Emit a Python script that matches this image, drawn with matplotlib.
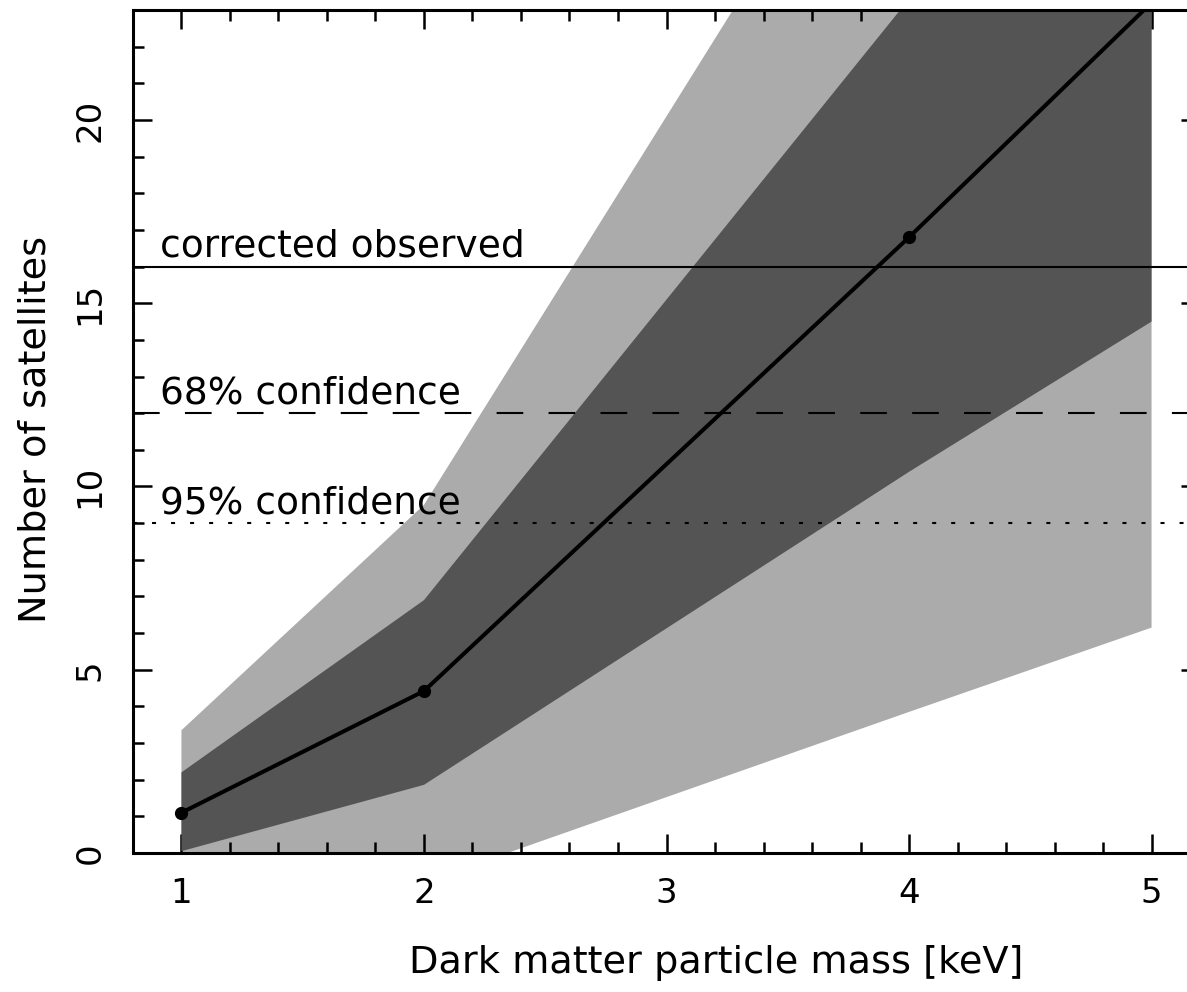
import matplotlib
matplotlib.use("Agg")
import matplotlib.pyplot as plt
from matplotlib.ticker import MultipleLocator

plt.rcParams['font.family'] = ['DejaVu Sans']
plt.rcParams['lines.scale_dashes'] = False

# Predicted satellite counts vs. warm dark matter particle mass
mass_kev = [1, 2, 4, 5]
n_mean = [1.1, 4.42, 16.8, 23.2]
n_lo68 = [0.05, 1.86, 10.4, 14.5]
n_hi68 = [2.2, 6.9, 23.3, 30.5]
n_lo95 = [-3.0, -0.8, 3.85, 6.15]
n_hi95 = [3.35, 9.5, 30.7, 38.0]

# Observed count and its confidence limits
obs_levels = [16, 12, 9]
obs_labels = ["corrected observed", "68% confidence", "95% confidence"]
obs_styles = ["-", (0, (19.2, 18.2)), (0, (2.9, 10.8))]

x_ticks = [1, 2, 3, 4, 5]
y_ticks = [0, 5, 10, 15, 20]

fig = plt.figure(figsize=(11.87, 9.92), dpi=100)
ax = fig.add_axes([0.1120, 0.1401, 0.8990, 0.8498])

ax.fill_between(mass_kev, n_lo95, n_hi95, color="#ababab", lw=0, zorder=1)
ax.fill_between(mass_kev, n_lo68, n_hi68, color="#545454", lw=0, zorder=2)
ax.plot(mass_kev, n_mean, color="black", lw=2.9, marker="o", ms=8.5, zorder=5)

for level, label, style in zip(obs_levels, obs_labels, obs_styles):
    ax.axhline(level, color="black", lw=1.5, linestyle=style, zorder=4)
    ax.annotate(label, xy=(0.911, level), xytext=(0, 7), textcoords="offset points",
                ha="left", va="baseline", fontsize=27, zorder=6)

ax.set_xlim(0.8, 5.2)
ax.set_ylim(0, 23)
ax.set_xticks(x_ticks)
ax.set_yticks(y_ticks)
ax.xaxis.set_minor_locator(MultipleLocator(0.2))
ax.yaxis.set_minor_locator(MultipleLocator(1))

ax.tick_params(which="both", direction="in", top=True, right=True, width=1.8, color="black")
ax.tick_params(which="major", length=13.7)
ax.tick_params(which="minor", length=8)
ax.tick_params(axis="x", which="major", labelsize=24.5, pad=17)
ax.tick_params(axis="y", which="major", labelsize=24.5, pad=19, labelrotation=90)
for lab in ax.get_yticklabels():
    lab.set_va("center")

for sp in ax.spines.values():
    sp.set_linewidth(2.2)

ax.set_xlabel("Dark matter particle mass [keV]", fontsize=27.5)
ax.xaxis.set_label_coords(0.547, -0.109)
ax.set_ylabel("Number of satellites", fontsize=27.5)
ax.yaxis.set_label_coords(-0.074, 0.503)

fig.savefig("out.png", dpi=100, facecolor="white")
